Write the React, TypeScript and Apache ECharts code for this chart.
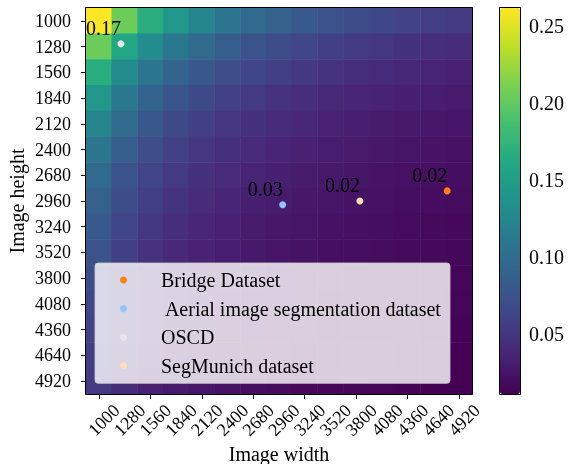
import React, { useEffect, useRef } from 'react';
import * as echarts from 'echarts';

// Tick labels (image sizes in pixels)
const widthLabels = ['1000', '1280', '1560', '1840', '2120', '2400', '2680', '2960', '3240', '3520', '3800', '4080', '4360', '4640', '4920'];
const heightLabels = ['1000', '1280', '1560', '1840', '2120', '2400', '2680', '2960', '3240', '3520', '3800', '4080', '4360', '4640', '4920'];

// Heatmap values, one row per image height (top to bottom), one column per image width
const heatValues: number[][] = [
  [0.262, 0.205, 0.168, 0.142, 0.124, 0.109, 0.098, 0.089, 0.081, 0.074, 0.069, 0.064, 0.060, 0.056, 0.053],
  [0.205, 0.160, 0.131, 0.111, 0.097, 0.085, 0.076, 0.069, 0.063, 0.058, 0.054, 0.050, 0.047, 0.044, 0.042],
  [0.168, 0.131, 0.108, 0.091, 0.079, 0.070, 0.063, 0.057, 0.052, 0.048, 0.044, 0.041, 0.039, 0.036, 0.034],
  [0.142, 0.111, 0.091, 0.077, 0.067, 0.059, 0.053, 0.048, 0.044, 0.040, 0.037, 0.035, 0.033, 0.031, 0.029],
  [0.124, 0.097, 0.079, 0.067, 0.058, 0.051, 0.046, 0.042, 0.038, 0.035, 0.033, 0.030, 0.028, 0.027, 0.025],
  [0.109, 0.085, 0.070, 0.059, 0.051, 0.045, 0.041, 0.037, 0.034, 0.031, 0.029, 0.027, 0.025, 0.024, 0.022],
  [0.098, 0.076, 0.063, 0.053, 0.046, 0.041, 0.036, 0.033, 0.030, 0.028, 0.026, 0.024, 0.022, 0.021, 0.020],
  [0.089, 0.069, 0.057, 0.048, 0.042, 0.037, 0.033, 0.030, 0.027, 0.025, 0.023, 0.022, 0.020, 0.019, 0.018],
  [0.081, 0.063, 0.052, 0.044, 0.038, 0.034, 0.030, 0.027, 0.025, 0.023, 0.021, 0.020, 0.019, 0.017, 0.016],
  [0.074, 0.058, 0.048, 0.040, 0.035, 0.031, 0.028, 0.025, 0.023, 0.021, 0.020, 0.018, 0.017, 0.016, 0.015],
  [0.069, 0.054, 0.044, 0.037, 0.033, 0.029, 0.026, 0.023, 0.021, 0.020, 0.018, 0.017, 0.016, 0.015, 0.014],
  [0.064, 0.050, 0.041, 0.035, 0.030, 0.027, 0.024, 0.022, 0.020, 0.018, 0.017, 0.016, 0.015, 0.014, 0.013],
  [0.060, 0.047, 0.039, 0.033, 0.028, 0.025, 0.022, 0.020, 0.019, 0.017, 0.016, 0.015, 0.014, 0.013, 0.012],
  [0.056, 0.044, 0.036, 0.031, 0.027, 0.024, 0.021, 0.019, 0.017, 0.016, 0.015, 0.014, 0.013, 0.012, 0.011],
  [0.053, 0.042, 0.034, 0.029, 0.025, 0.022, 0.020, 0.018, 0.016, 0.015, 0.014, 0.013, 0.012, 0.011, 0.011],
];

// Datasets (scatter points): name, [width, height], annotated value, colour
const datasetNames = ['Bridge Dataset', ' Aerial image segmentation dataset', 'OSCD', 'SegMunich dataset'];
const datasetSizes: number[][] = [
  [4790, 2850],
  [3000, 3000],
  [1240, 1250],
  [3840, 2960],
];
const datasetScores = ['0.02', '0.03', '0.17', '0.02'];
const datasetColors = ['#ff7f0e', '#94c4ff', '#e6e6e6', '#ffdcb8'];

// Colour bar
const colorbarMin = 0.0108;
const colorbarMax = 0.262;
const colorbarTicks = [0.05, 0.1, 0.15, 0.2, 0.25];
const viridis = ['#440154', '#482475', '#414487', '#355f8d', '#2a788e', '#21918c', '#22a884', '#44bf70', '#7ad151', '#bddf26', '#fde725'];

const FONT = "'Liberation Serif', 'Times New Roman', serif";

export default function App() {
  const ref = useRef<HTMLDivElement>(null);

  useEffect(() => {
    if (!ref.current) return;
    const chart = echarts.init(ref.current, undefined, { renderer: 'svg' });

    const heatData: number[][] = [];
    heatValues.forEach((row, yi) => {
      row.forEach((v, xi) => heatData.push([xi, yi, v]));
    });

    const scatterSeries = datasetNames.map((name, i) => ({
      type: 'scatter',
      name,
      xAxisIndex: 1,
      yAxisIndex: 1,
      symbol: 'circle',
      symbolSize: 7,
      z: 5,
      itemStyle: { color: datasetColors[i], opacity: 1 },
      label: {
        show: true,
        formatter: () => datasetScores[i],
        position: [3.5, -12.5],
        align: 'right',
        verticalAlign: 'middle',
        fontSize: 20,
        fontFamily: FONT,
        color: '#000',
      },
      emphasis: { disabled: true },
      data: [datasetSizes[i]],
    }));

    const tickStyle = { show: true, alignWithLabel: true, length: 5, lineStyle: { color: '#000', width: 1 } };

    const option: any = {
      animation: false,
      grid: [
        { left: 86, top: 8, width: 386, height: 386 },
        { left: 500, top: 8, width: 20, height: 386 },
        { left: 91, top: 8, width: 386, height: 386 },
      ],
      xAxis: [
        {
          gridIndex: 0, type: 'category', data: widthLabels,
          axisLine: { show: false }, axisTick: tickStyle,
          axisLabel: { show: false }, splitLine: { show: false },
        },
        { gridIndex: 0, type: 'value', min: 860, max: 5060, show: false },
        { gridIndex: 1, type: 'value', show: false },
        {
          gridIndex: 2, type: 'category', data: widthLabels,
          axisLine: { show: false }, axisTick: { show: false }, splitLine: { show: false },
          axisLabel: {
            show: true, interval: 0, rotate: 45, align: 'center', verticalAlign: 'middle',
            margin: 26, fontSize: 18, fontFamily: FONT, color: '#000',
          },
        },
      ],
      yAxis: [
        {
          gridIndex: 0, type: 'category', data: heightLabels, inverse: true,
          axisLine: { show: false }, axisTick: tickStyle, splitLine: { show: false },
          axisLabel: { interval: 0, margin: 15, fontSize: 18, fontFamily: FONT, color: '#000' },
        },
        { gridIndex: 0, type: 'value', min: 860, max: 5060, inverse: true, show: false },
        {
          gridIndex: 1, type: 'value', min: colorbarMin, max: colorbarMax, position: 'right',
          axisLine: { show: false }, splitLine: { show: false },
          axisTick: { show: true, length: 5, customValues: colorbarTicks, lineStyle: { color: '#000' } },
          axisLabel: {
            customValues: colorbarTicks, margin: 9, fontSize: 20, fontFamily: FONT, color: '#000',
            formatter: (v: number) => v.toFixed(2),
          },
        },
        { gridIndex: 2, type: 'category', data: heightLabels, show: false },
      ],
      visualMap: {
        type: 'continuous',
        min: colorbarMin,
        max: colorbarMax,
        seriesIndex: 0,
        calculable: false,
        hoverLink: false,
        orient: 'vertical',
        left: 500,
        top: 8,
        itemWidth: 20,
        itemHeight: 386,
        padding: 0,
        inRange: { color: viridis },
      },
      legend: {
        data: datasetNames,
        orient: 'vertical',
        left: 95,
        top: 263,
        padding: [6, 8, 6.5, 25],
        itemWidth: 7,
        itemHeight: 7,
        itemGap: 6.6,
        icon: 'circle',
        selectedMode: false,
        backgroundColor: 'rgba(255,255,255,0.8)',
        borderColor: 'rgba(204,204,204,0.8)',
        borderWidth: 1,
        borderRadius: 3,
        textStyle: { fontFamily: FONT, fontSize: 20, color: '#000', lineHeight: 22, padding: [0, 0, 0, 29] },
      },
      graphic: [
        {
          type: 'rect', z: 100, silent: true,
          shape: { x: 85.5, y: 7.5, width: 387, height: 387 },
          style: { fill: 'none', stroke: '#000', lineWidth: 1 },
        },
        {
          type: 'rect', z: 100, silent: true,
          shape: { x: 499.5, y: 7.5, width: 21, height: 387 },
          style: { fill: 'none', stroke: '#000', lineWidth: 1 },
        },
        {
          type: 'text', x: 17, y: 201, rotation: Math.PI / 2, silent: true,
          style: { text: 'Image height', fontSize: 20, fontFamily: FONT, fill: '#000', align: 'center', verticalAlign: 'middle' },
        },
        {
          type: 'text', x: 279, y: 454, silent: true,
          style: { text: 'Image width', fontSize: 20, fontFamily: FONT, fill: '#000', align: 'center', verticalAlign: 'middle' },
        },
      ],
      series: [
        {
          type: 'heatmap',
          xAxisIndex: 0,
          yAxisIndex: 0,
          data: heatData,
          z: 1,
          emphasis: { disabled: true },
        },
        ...scatterSeries,
      ],
    };

    chart.setOption(option);
    return () => chart.dispose();
  }, []);

  return <div ref={ref} style={{ position: 'fixed', left: 0, top: 0, width: 568, height: 464 }} />;
}
